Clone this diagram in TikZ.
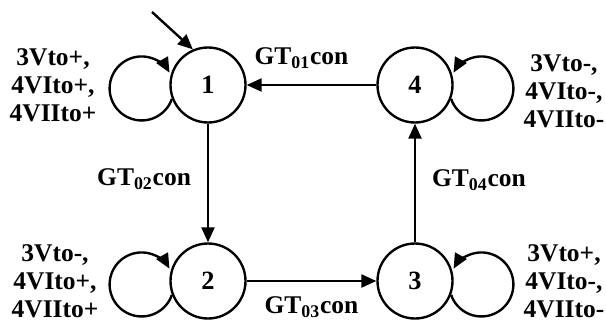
\documentclass[tikz,border=0pt]{standalone}
\usepackage{fontspec}
\setmainfont{Liberation Serif}
\usetikzlibrary{positioning}
\usetikzlibrary{arrows.meta}

\tikzset{
	state/.style={draw, circle, line width=1.35pt, minimum size=1.5cm, inner sep=0pt, font=\fontsize{15}{18}\selectfont\bfseries},
	trans/.style={line width=1.35pt, -{Triangle[length=0.3cm,width=0.26cm]}},
	lbl/.style={font=\fontsize{14.5}{16}\selectfont\bfseries, align=center},
}

\begin{document}
\begin{tikzpicture}[node distance=3.92cm and 4.14cm, on grid]
		\useasboundingbox (0,0) rectangle (12.12,-6.54);
		\node [state] (n1) at (4.16,-1.70) {1};
		\node [state, right=of n1] (n4) {4};
		\node [state, below=of n1] (n2) {2};
		\node [state, below=of n4] (n3) {3};
		\coordinate (init) at (3.04,-0.24);
		\draw [trans] (init) -- (n1.113);
		% transitions
		\draw [trans] (n4) -- node [lbl, above=0.18cm, xshift=-0.2cm] {GT\textsubscript{01}con} (n1);
		\draw [trans] (n1) -- node [lbl, left=0.2cm, yshift=0.08cm] {GT\textsubscript{02}con} (n2);
		\draw [trans] (n2) -- node [lbl, below=0.18cm] {GT\textsubscript{03}con} (n3);
		\draw [trans] (n3) -- node [lbl, right=0.2cm, yshift=0.06cm] {GT\textsubscript{04}con} (n4);
		% self loops
		\draw [trans] (n1.201) arc [start angle=-19, end angle=-330.5, radius=0.64cm];
		\draw [trans] (n2.201) arc [start angle=-19, end angle=-330.5, radius=0.64cm];
		\draw [trans] (n4.-21) arc [start angle=199, end angle=510.5, radius=0.64cm];
		\draw [trans] (n3.-21) arc [start angle=199, end angle=510.5, radius=0.64cm];
		\node [lbl, left=3.10cm of n1] (L1) {3Vto+,\\4VIto+,\\4VIIto+};
		\node [lbl, left=3.06cm of n2] (L2) {3Vto-,\\4VIto+,\\4VIIto+};
		\node [lbl, right=2.98cm of n4, yshift=-0.12cm] (L4) {3Vto-,\\4VIto-,\\4VIIto-};
		\node [lbl, right=2.98cm of n3] (L3) {3Vto+,\\4VIto-,\\4VIIto-};
	\end{tikzpicture}
\end{document}
